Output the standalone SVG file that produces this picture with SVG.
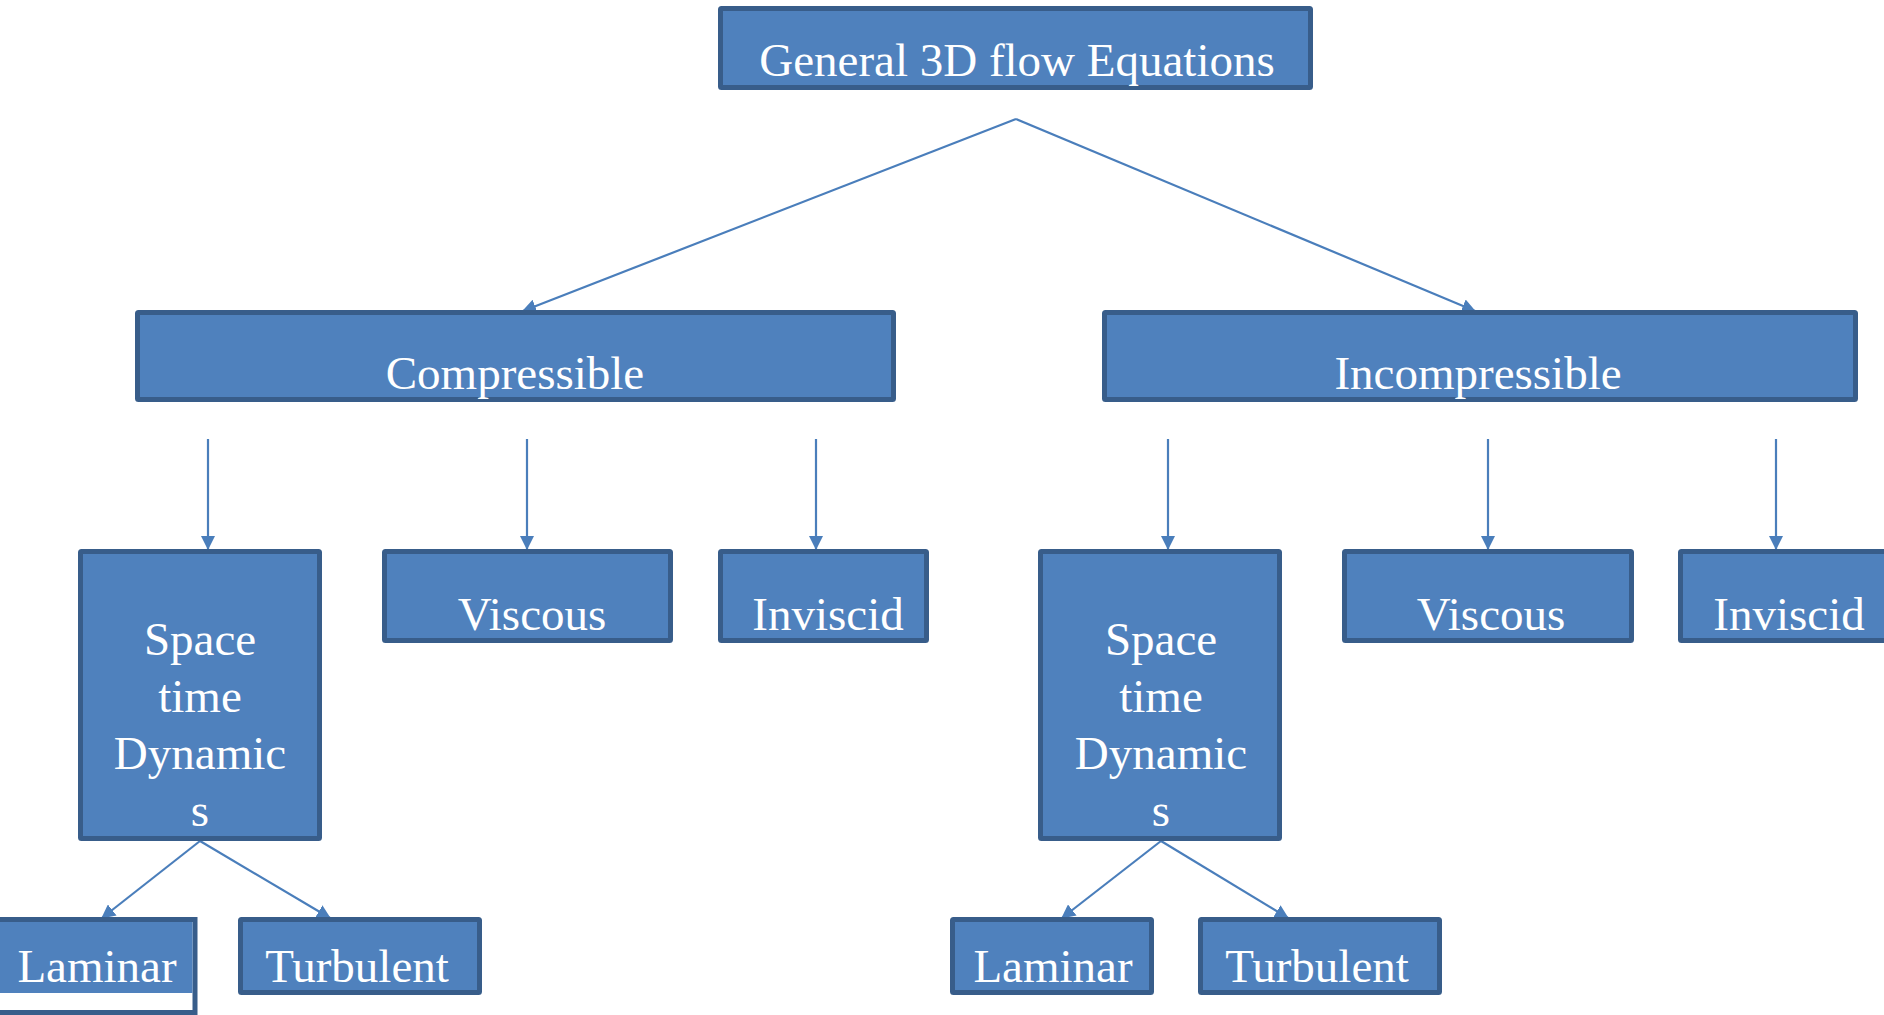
<svg xmlns="http://www.w3.org/2000/svg" width="1884" height="1015" viewBox="0 0 1884 1015">
<style>
.box{fill:#4f81bd;stroke:#385d8a;stroke-width:5}
.t{font-family:"Liberation Serif","Times New Roman",serif;font-size:47px;fill:#ffffff;text-anchor:middle}
.c{stroke:#4a7ebb;stroke-width:2.2;fill:none;marker-end:url(#ah)}
</style>
<defs>
<marker id="ah" markerUnits="userSpaceOnUse" markerWidth="14" markerHeight="14" refX="13" refY="7" orient="auto">
<path d="M0,0 L14,7 L0,14 z" fill="#4a7ebb"/>
</marker>
</defs>
<rect width="1884" height="1015" fill="#ffffff"/>
<g id="connectors">
<line class="c" x1="1016" y1="119" x2="523" y2="311"/>
<line class="c" x1="1016" y1="119" x2="1475" y2="311"/>
<line class="c" x1="208" y1="439" x2="208" y2="549"/>
<line class="c" x1="527" y1="439" x2="527" y2="549"/>
<line class="c" x1="816" y1="439" x2="816" y2="549"/>
<line class="c" x1="1168" y1="439" x2="1168" y2="549"/>
<line class="c" x1="1488" y1="439" x2="1488" y2="549"/>
<line class="c" x1="1776" y1="439" x2="1776" y2="549"/>
<line class="c" x1="200" y1="841" x2="102" y2="918"/>
<line class="c" x1="200" y1="841" x2="330" y2="918"/>
<line class="c" x1="1161" y1="841" x2="1062" y2="918"/>
<line class="c" x1="1161" y1="841" x2="1288" y2="918"/>
</g>
<g id="n-general"><rect class="box" x="720.5" y="8.5" width="590" height="79" rx="1"/><text class="t" x="1017" y="76">General 3D flow Equations</text></g>
<g id="n-compressible"><rect class="box" x="137.5" y="312.5" width="756" height="87" rx="1"/><text class="t" x="515" y="389">Compressible</text></g>
<g id="n-incompressible"><rect class="box" x="1104.5" y="312.5" width="751" height="87" rx="1"/><text class="t" x="1478" y="389">Incompressible</text></g>
<g id="n-st1"><rect class="box" x="80.5" y="551.5" width="239" height="287" rx="1"/>
<text class="t" x="200" y="655">Space</text><text class="t" x="200" y="712">time</text><text class="t" x="200" y="769">Dynamic</text><text class="t" x="200" y="826">s</text></g>
<g id="n-viscous1"><rect class="box" x="384.5" y="551.5" width="286" height="89" rx="1"/><text class="t" x="532" y="630">Viscous</text></g>
<g id="n-inviscid1"><rect class="box" x="720.5" y="551.5" width="206" height="89" rx="1"/><text class="t" x="828" y="630">Inviscid</text></g>
<g id="n-st2"><rect class="box" x="1040.5" y="551.5" width="239" height="287" rx="1"/>
<text class="t" x="1161" y="655">Space</text><text class="t" x="1161" y="712">time</text><text class="t" x="1161" y="769">Dynamic</text><text class="t" x="1161" y="826">s</text></g>
<g id="n-viscous2"><rect class="box" x="1344.5" y="551.5" width="287" height="89" rx="1"/><text class="t" x="1491" y="630">Viscous</text></g>
<g id="n-inviscid2"><rect class="box" x="1680.5" y="551.5" width="230" height="89" rx="1"/><text class="t" x="1789" y="630">Inviscid</text></g>
<g id="n-laminar1"><rect x="-10" y="919.5" width="205" height="93" fill="#ffffff" stroke="#385d8a" stroke-width="5"/><rect x="-10" y="922" width="202.5" height="71" fill="#4f81bd"/><text class="t" x="97" y="982">Laminar</text></g>
<g id="n-turbulent1"><rect class="box" x="240.5" y="919.5" width="239" height="73" rx="1"/><text class="t" x="357" y="982">Turbulent</text></g>
<g id="n-laminar2"><rect class="box" x="952.5" y="919.5" width="199" height="73" rx="1"/><text class="t" x="1053" y="982">Laminar</text></g>
<g id="n-turbulent2"><rect class="box" x="1200.5" y="919.5" width="239" height="73" rx="1"/><text class="t" x="1317" y="982">Turbulent</text></g>
</svg>
